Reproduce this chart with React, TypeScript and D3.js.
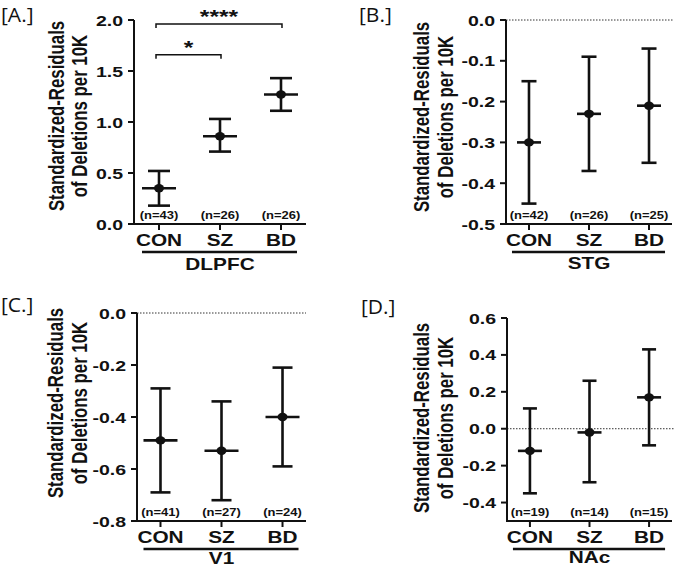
import React from "react";
import * as d3 from "d3";

const categories = ["CON", "SZ", "BD"];

const dlpfcMean = [0.35, 0.86, 1.27];
const dlpfcLow = [0.18, 0.71, 1.11];
const dlpfcHigh = [0.52, 1.03, 1.43];
const dlpfcN = [43, 26, 26];
const dlpfcTicks = [0, 0.5, 1.0, 1.5, 2.0];
const dlpfcSigFrom = ["CON", "CON"];
const dlpfcSigTo = ["SZ", "BD"];
const dlpfcSigValue = [1.66, 1.96];
const dlpfcSigLabel = ["*", "****"];

const stgMean = [-0.3, -0.23, -0.21];
const stgLow = [-0.45, -0.37, -0.35];
const stgHigh = [-0.15, -0.09, -0.07];
const stgN = [42, 26, 25];
const stgTicks = [0, -0.1, -0.2, -0.3, -0.4, -0.5];

const v1Mean = [-0.49, -0.53, -0.4];
const v1Low = [-0.69, -0.72, -0.59];
const v1High = [-0.29, -0.34, -0.21];
const v1N = [41, 27, 24];
const v1Ticks = [0, -0.2, -0.4, -0.6, -0.8];

const nacMean = [-0.12, -0.02, 0.17];
const nacLow = [-0.35, -0.29, -0.09];
const nacHigh = [0.11, 0.26, 0.43];
const nacN = [19, 14, 15];
const nacTicks = [0.6, 0.4, 0.2, 0, -0.2, -0.4];

const FONT = "'Liberation Sans', Arial, Helvetica, sans-serif";
const INK = "#111";
const SX = 1.3;

const fmt = (v: number) => (Math.abs(v) < 1e-9 ? "0.0" : v.toFixed(1));

type TProps = {
  x: number;
  y: number;
  size: number;
  anchor?: string;
  sx?: number;
  weight?: string | number;
  family?: string;
  children: React.ReactNode;
};
const T = ({ x, y, size, anchor = "middle", sx = SX, weight = "bold", family = FONT, children }: TProps) => (
  <text
    transform={`translate(${x},${y}) scale(${sx},1)`}
    textAnchor={anchor as any}
    fontSize={size}
    fontWeight={weight as any}
    fontFamily={family}
    fill={INK}
  >
    {children}
  </text>
);

type PanelProps = {
  tag: string;
  tagX: number;
  tagY: number;
  region: string;
  regionDy: number;
  mean: number[];
  low: number[];
  high: number[];
  n: number[];
  ticks: number[];
  domain: [number, number];
  yRange: [number, number];
  xLeft: number;
  xRight: number;
  padding: number;
  zeroLine: boolean;
  title1X: number;
  title2X: number;
  titleCY: number;
  capHalf: number;
  meanHalf: number;
  sig?: { from: string; to: string; value: number; label: string }[];
};

const Panel = (p: PanelProps) => {
  const y = d3.scaleLinear().domain(p.domain).range(p.yRange);
  const x = d3.scalePoint<string>().domain(categories).range([p.xLeft, p.xRight]).padding(p.padding);
  const axisY = p.yRange[0];
  const first = x(categories[0]) as number;
  const last = x(categories[categories.length - 1]) as number;
  const mid = x(categories[1]) as number;
  return (
    <g>
      <T x={p.tagX} y={p.tagY} size={20} anchor="start" sx={1.05} weight={400} family="'Open Sans', 'DejaVu Sans', sans-serif">
        {p.tag}
      </T>
      {/* y title */}
      <text
        transform={`translate(${p.title1X},${p.titleCY}) scale(1.35,1) rotate(-90)`}
        textAnchor="middle"
        fontSize={16.8}
        fontWeight="bold"
        fontFamily={FONT}
        fill={INK}
      >
        Standardized-Residuals
      </text>
      <text
        transform={`translate(${p.title2X},${p.titleCY}) scale(1.35,1) rotate(-90)`}
        textAnchor="middle"
        fontSize={16.8}
        fontWeight="bold"
        fontFamily={FONT}
        fill={INK}
      >
        of Deletions per 10K
      </text>
      {/* zero line */}
      {p.zeroLine && (
        <line
          x1={p.xLeft}
          x2={p.xRight + (p.xLeft > 300 ? 2 : 0)}
          y1={y(0)}
          y2={y(0)}
          stroke="#333"
          strokeWidth={1}
          strokeDasharray="1.5,1.5"
        />
      )}
      {/* y axis */}
      <line x1={p.xLeft} x2={p.xLeft} y1={p.yRange[1]} y2={axisY + 1} stroke={INK} strokeWidth={2} />
      {p.ticks.map((t) => (
        <g key={t}>
          <line x1={p.xLeft - 6} x2={p.xLeft} y1={y(t)} y2={y(t)} stroke={INK} strokeWidth={2} />
          <T x={p.xLeft - 11} y={y(t) + 5.5} size={15} anchor="end">
            {fmt(t)}
          </T>
        </g>
      ))}
      {/* x axis */}
      <line x1={p.xLeft - 1} x2={p.xRight} y1={axisY} y2={axisY} stroke={INK} strokeWidth={2} />
      {categories.map((c, i) => {
        const cx = x(c) as number;
        return (
          <g key={c}>
            <line x1={cx} x2={cx} y1={axisY} y2={axisY + 6} stroke={INK} strokeWidth={2} />
            <T x={cx} y={axisY + 22} size={16}>
              {c}
            </T>
            <T x={cx} y={axisY - 5} size={10}>
              {`(n=${p.n[i]})`}
            </T>
            {/* error bar */}
            <line x1={cx} x2={cx} y1={y(p.low[i])} y2={y(p.high[i])} stroke={INK} strokeWidth={2.6} />
            <line x1={cx - p.capHalf} x2={cx + p.capHalf} y1={y(p.low[i])} y2={y(p.low[i])} stroke={INK} strokeWidth={2.6} />
            <line x1={cx - p.capHalf} x2={cx + p.capHalf} y1={y(p.high[i])} y2={y(p.high[i])} stroke={INK} strokeWidth={2.6} />
            <line x1={cx - p.meanHalf} x2={cx + p.meanHalf} y1={y(p.mean[i])} y2={y(p.mean[i])} stroke={INK} strokeWidth={2.6} />
            <ellipse cx={cx} cy={y(p.mean[i])} rx={5} ry={4.2} fill={INK} />
          </g>
        );
      })}
      {/* group underline */}
      <line x1={first - 17} x2={last + 16} y1={axisY + 28} y2={axisY + 28} stroke={INK} strokeWidth={2.5} />
      <T x={mid} y={axisY + p.regionDy} size={16}>
        {p.region}
      </T>
      {/* significance */}
      {(p.sig || []).map((s, k) => {
        const x1 = (x(s.from) as number) - 3;
        const x2 = (x(s.to) as number) + 1;
        const yy = y(s.value);
        return (
          <g key={k}>
            <path d={`M${x1},${yy + 4}V${yy}H${x2}V${yy + 4}`} fill="none" stroke={INK} strokeWidth={1.5} />
            <T x={(x1 + x2) / 2} y={yy - 1} size={19}>
              {s.label}
            </T>
          </g>
        );
      })}
    </g>
  );
};

export default function App() {
  const sig = dlpfcSigFrom.map((f, i) => ({
    from: f,
    to: dlpfcSigTo[i],
    value: dlpfcSigValue[i],
    label: dlpfcSigLabel[i],
  }));
  return (
    <svg
      width={674}
      height={567}
      style={{ position: "absolute", left: 0, top: 0, background: "#fff" }}
    >
      <Panel
        tag="[A.]"
        tagX={1}
        tagY={21.5}
        region="DLPFC"
        regionDy={46}
        mean={dlpfcMean}
        low={dlpfcLow}
        high={dlpfcHigh}
        n={dlpfcN}
        ticks={dlpfcTicks}
        domain={[0, 2]}
        yRange={[224, 20]}
        xLeft={134}
        xRight={306}
        padding={0.41}
        zeroLine={false}
        title1X={64}
        title2X={87}
        titleCY={116}
        capHalf={11}
        meanHalf={17}
        sig={sig}
      />
      <Panel
        tag="[B.]"
        tagX={359}
        tagY={21.5}
        region="STG"
        regionDy={45}
        mean={stgMean}
        low={stgLow}
        high={stgHigh}
        n={stgN}
        ticks={stgTicks}
        domain={[-0.5, 0]}
        yRange={[224, 20]}
        xLeft={506}
        xRight={672}
        padding={0.383}
        zeroLine={true}
        title1X={429}
        title2X={453}
        titleCY={117}
        capHalf={7.5}
        meanHalf={12}
      />
      <Panel
        tag="[C.]"
        tagX={1}
        tagY={312}
        region="V1"
        regionDy={43}
        mean={v1Mean}
        low={v1Low}
        high={v1High}
        n={v1N}
        ticks={v1Ticks}
        domain={[-0.8, 0]}
        yRange={[521, 313]}
        xLeft={137}
        xRight={306}
        padding={0.385}
        zeroLine={true}
        title1X={63}
        title2X={87}
        titleCY={403}
        capHalf={10}
        meanHalf={17}
      />
      <Panel
        tag="[D.]"
        tagX={361}
        tagY={314}
        region="NAc"
        regionDy={42}
        mean={nacMean}
        low={nacLow}
        high={nacHigh}
        n={nacN}
        ticks={nacTicks}
        domain={[-0.5, 0.6]}
        yRange={[521, 318]}
        xLeft={507}
        xRight={672}
        padding={0.385}
        zeroLine={true}
        title1X={429}
        title2X={453}
        titleCY={418}
        capHalf={7}
        meanHalf={12}
      />
    </svg>
  );
}
